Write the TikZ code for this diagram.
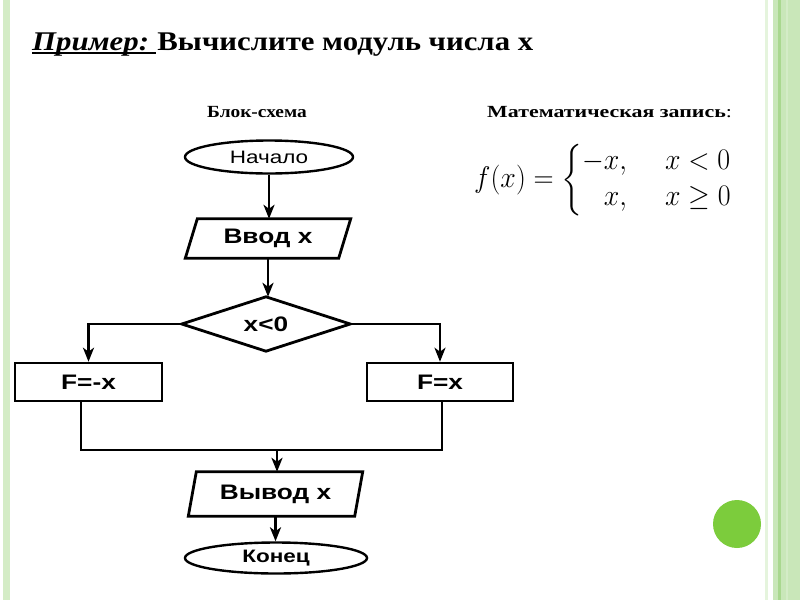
\documentclass[tikz,border=0pt]{standalone}
\usepackage{amsmath}
\usepackage{fontspec}
\setmainfont[FakeStretch=1.14]{Liberation Serif}
\newfontfamily\arialf[FakeStretch=1.25]{Liberation Sans}
\usetikzlibrary{arrows.meta,calc,shapes.geometric}
\definecolor{bandg}{HTML}{C9E7B9}
\definecolor{bandd}{HTML}{A9D88F}
\definecolor{stripg}{HTML}{D4ECC6}
\definecolor{dotg}{HTML}{7CCC3C}
\tikzset{
  line/.style={line width=2.8pt, black},
  arr/.style={line, -{Stealth[length=14pt,width=11pt,inset=4pt]}},
  term/.style={ellipse, draw, line width=2.4pt, inner sep=0pt, font=\arialf\fontsize{18}{18}\selectfont},
  boxa/.style={draw, line width=2.6pt, inner sep=0pt, font=\arialf\bfseries\fontsize{21}{21}\selectfont},
  ghost/.style={inner sep=0pt, font=\arialf\bfseries\fontsize{21}{21}\selectfont},
  head/.style={font=\bfseries\fontsize{17}{17}\selectfont, anchor=base west, inner sep=0pt},
}
\begin{document}
\begin{tikzpicture}[x=1pt,y=-1pt]
\useasboundingbox (0,0) rectangle (800,600);
\fill[white] (0,0) rectangle (800,600);
% borders
\fill[stripg] (3,0) rectangle (10,600);
\fill[stripg!60] (765,0) rectangle (768,600);
\fill[bandg] (773,0) rectangle (800,600);
\fill[bandd] (778,0) rectangle (781,600);
\fill[bandd!50] (786,0) rectangle (788,600);
\fill[dotg] (737,524) circle (24);
% title
\node[anchor=base west, inner sep=0pt, font=\bfseries\itshape\fontsize{27}{27}\selectfont] (t1) at (32,50) {Пример:};
\node[anchor=base west, inner sep=0pt, font=\bfseries\fontsize{27}{27}\selectfont] (t2) at ($(t1.base east)+(8,0)$) {Вычислите модуль числа х};
\draw[line width=1.8pt] ($(t1.base west)+(0,3)$) -- ($(t2.base west)+(-1,3)$);
\node[head] (h1) at (207,117) {Блок-схема};
\node[head] (h2) at (487,117) {\scalebox{1.13}[1]{Математическая запись\normalfont:}};
% formula
\node[anchor=west, inner sep=0pt, font=\fontsize{24.88}{30}\selectfont] (formula) at (474,180)
  {\scalebox{1.12}[1.2]{$f(x)=\bigg\{\begin{array}{@{}l@{\hspace{34pt}}l@{}}-x, & x<0\\ \phantom{-}x, & x\geq 0\end{array}$}};
% flowchart
\node[term, minimum width=168, minimum height=33] (start) at (269,157) {Начало};
\node[ghost, minimum width=153, minimum height=39] (in) at (268,238.5) {Ввод х};
\draw[line] ($(in.north west)+(6,0)$) -- ($(in.north east)+(6,0)$) -- ($(in.south east)+(-6,0)$) -- ($(in.south west)+(-6,0)$) -- cycle;
\node[ghost, minimum width=168, minimum height=54] (cond) at (266,324) {x<0};
\draw[line] (cond.west) -- (cond.north) -- (cond.east) -- (cond.south) -- cycle;
\node[boxa, minimum width=147, minimum height=38] (f1) at (88.5,382) {F=-x};
\node[boxa, minimum width=146, minimum height=38] (f2) at (440,382) {F=x};
\node[ghost, minimum width=166, minimum height=44] (out) at (275.5,494) {Вывод х};
\draw[line] ($(out.north west)+(4,0)$) -- ($(out.north east)+(4,0)$) -- ($(out.south east)+(-4,0)$) -- ($(out.south west)+(-4,0)$) -- cycle;
\node[term, font=\arialf\bfseries\fontsize{18}{18}\selectfont, minimum width=182, minimum height=31] (end) at (276,558) {Конец};
\coordinate (jl) at (81,450);
\coordinate (jr) at (442,450);
\coordinate (jm) at (277,450);
\draw[arr] (start.south) -- (start.south |- in.north);
\draw[arr] (in.south) -- (in.south |- cond.north);
\draw[arr] (cond.west) -| (f1.north);
\draw[arr] (cond.east) -| (f2.north);
\draw[line] (f1.south -| jl) -- (jl) -- (jr) -- (f2.south -| jr);
\draw[arr] (jm) -- (jm |- out.north);
\draw[arr] (out.south) -- (out.south |- end.north);
\end{tikzpicture}
\end{document}
